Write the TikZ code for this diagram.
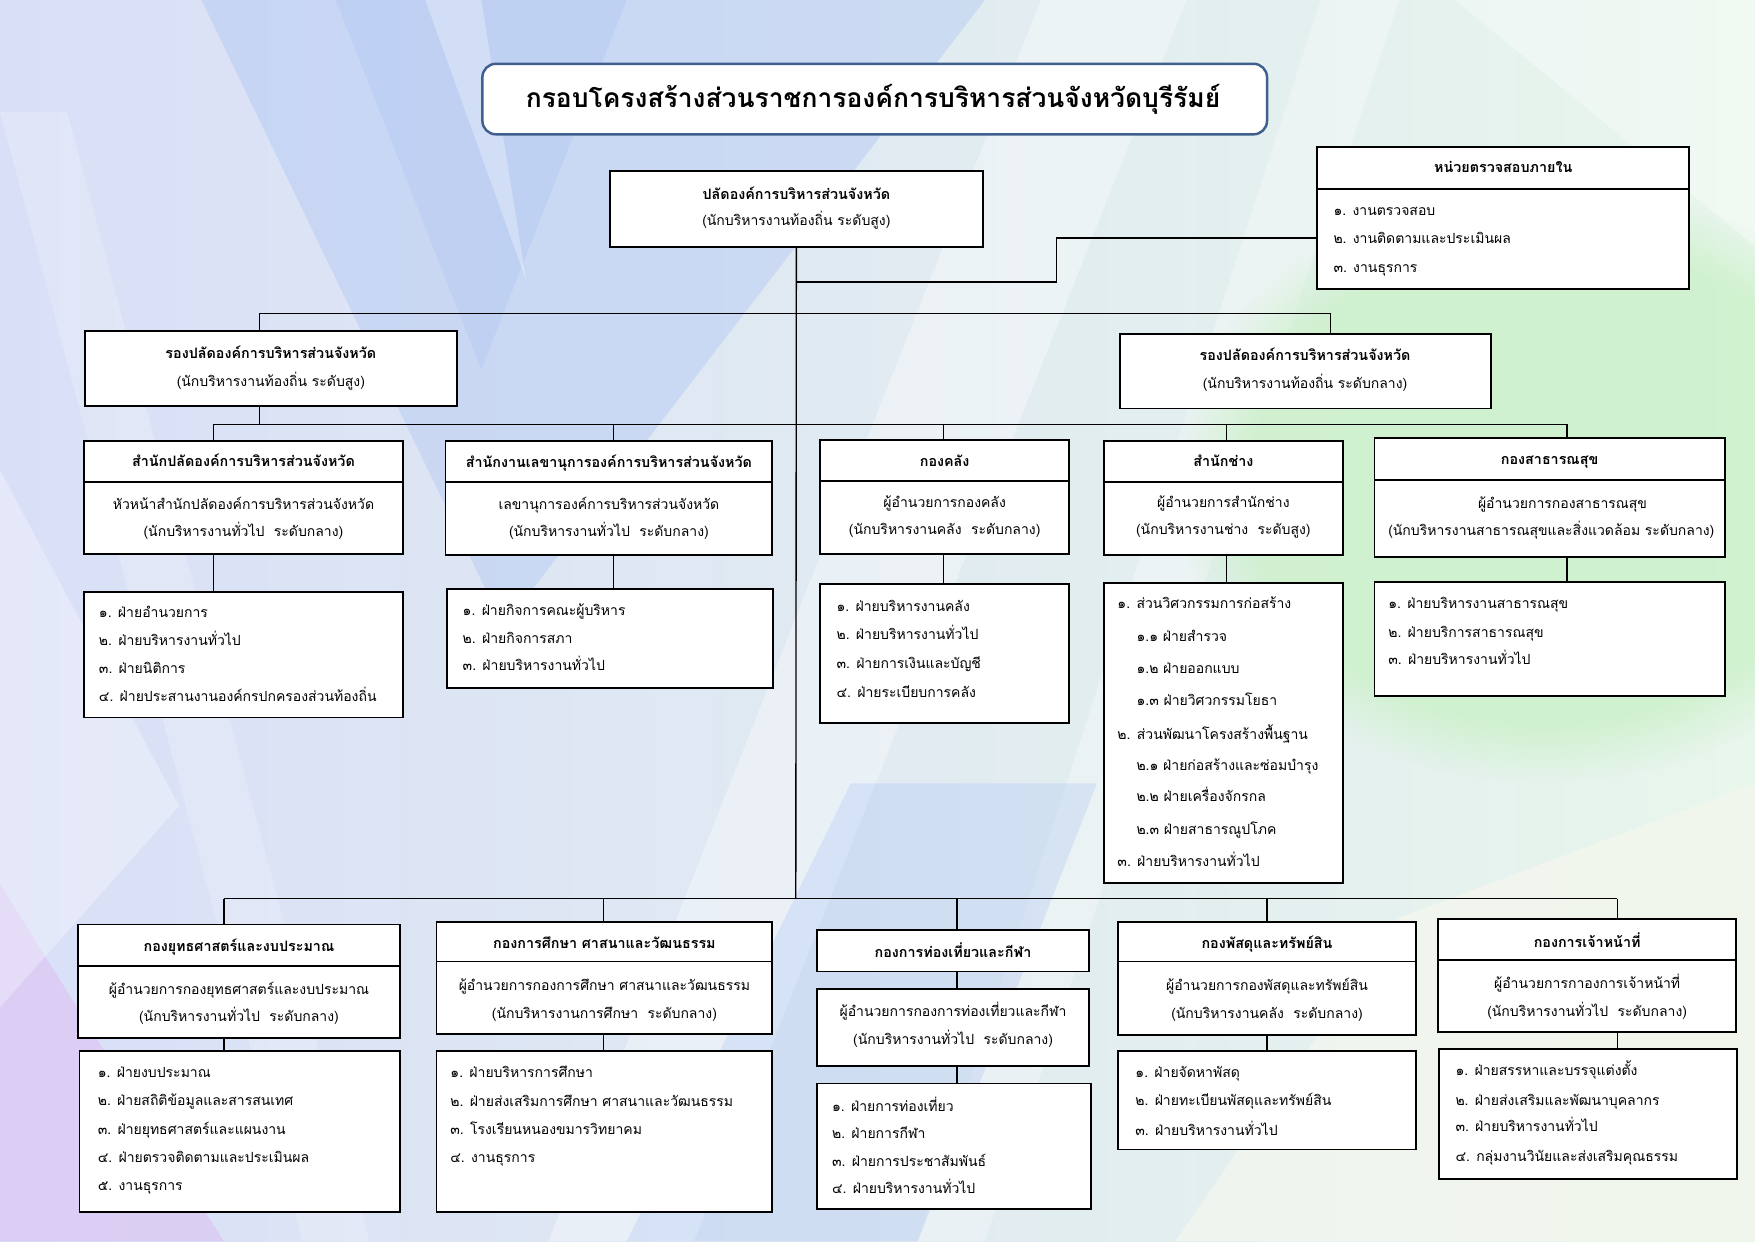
\documentclass[tikz,border=0pt]{standalone}
\usepackage{fontspec}
\setmainfont[Script=Thai]{Loma}
\usetikzlibrary{calc,fadings}
\definecolor{bgA}{HTML}{D9DFF7}
\definecolor{bgB}{HTML}{DCE7F6}
\definecolor{bgC}{HTML}{E8F6EC}
\definecolor{blueV}{HTML}{A9C2F3}
\definecolor{greenB}{HTML}{CBF1C8}
\definecolor{purp}{HTML}{DCC6F3}
\definecolor{cream}{HTML}{F6F7EE}
\definecolor{titleblue}{HTML}{3F5F8F}
\newcommand{\rbox}[6][]{\node[bx,#1,minimum width={(#5-#3)*0.5pt},minimum height={(#6-#4)*0.5pt}] (#2) at ({(#3+#5)/2},{(#4+#6)/2}) {};}
\tikzset{
 bx/.style={draw=black, line width=0.85pt, fill=white, inner sep=0pt, outer sep=0pt},
 tx/.style={font=\fontsize{6.25}{8}\selectfont, inner sep=0pt, anchor=base, yshift=-1.65pt},
 hd/.style={font=\fontsize{6.4}{8}\selectfont\bfseries, inner sep=0pt, anchor=base, yshift=-1.7pt},
 it/.style={font=\fontsize{6.25}{8}\selectfont, inner sep=0pt, anchor=base west, yshift=-1.65pt},
 ttl/.style={font=\fontsize{11.8}{14}\selectfont\bfseries, inner sep=0pt, anchor=base, yshift=-3.1pt},
 ln/.style={line width=0.6pt, black},
}
\begin{document}
\begin{tikzpicture}[x=0.5pt,y=-0.5pt]
\useasboundingbox (0,0) rectangle (1568,1109);
% background
\shade[left color=bgA, middle color=bgB, right color=bgC] (0,0) rectangle (1568,1109);
\fill[blueV, opacity=.38] (180,0) -- (880,0) -- (450,560) -- cycle;
\fill[blueV, opacity=.3] (300,0) -- (560,0) -- (430,330) -- cycle;
\fill[white, opacity=.3] (380,0) -- (430,0) -- (470,250) -- cycle;
\fill[white, opacity=.35] (930,0) -- (1060,0) -- (620,1109) -- (490,1109) -- cycle;
\fill[white, opacity=.3] (1180,0) -- (1250,0) -- (880,1109) -- (820,1109) -- cycle;
\fill[white, opacity=.2] (0,100) -- (60,100) -- (330,1109) -- (270,1109) -- cycle;
\fill[greenB, opacity=.8, path fading=circle with fuzzy edge 20 percent] (1380,430) ellipse [x radius=330, y radius=270];
\fill[purp, opacity=.7] (0,790) -- (200,1109) -- (0,1109) -- cycle;
\fill[cream, opacity=.7] (1250,820) -- (1568,700) -- (1568,1109) -- (1050,1109) -- cycle;
\fill[white, opacity=.35] (1300,0) -- (1568,0) -- (1568,220) -- cycle;
\fill[blueV, opacity=.3] (560,1109) -- (760,700) -- (980,700) -- (820,1109) -- cycle;
\fill[white, opacity=.3] (0,420) -- (160,720) -- (0,900) -- cycle;

% connectors
\coordinate (br) at (711,252);
\coordinate (b1) at (711,280);
\coordinate (kDL) at (232,280);
\coordinate (kDR) at (1189,280);
\coordinate (b2) at (711,379);
\coordinate (b3) at (711,803);
\coordinate (k2a) at (191,379);
\coordinate (k2b) at (548,379);
\coordinate (k2c) at (843,379);
\coordinate (k2d) at (1096,379);
\coordinate (k2e) at (1400,379);
\coordinate (k3f) at (200,803);
\coordinate (k3g) at (539,803);
\coordinate (k3h) at (855,803);
\coordinate (k3i) at (1132,803);
\coordinate (k3j) at (1445,803);

% boxes
\rbox[rounded corners=6pt, draw=titleblue, line width=1.1pt]{title}{431}{57}{1132}{120}
\rbox{T}{545}{153}{878}{221}
\rbox{Ah}{1177}{131}{1509}{169}
\rbox{Al}{1177}{169}{1509}{258}
\rbox{DL}{76}{296}{408}{363}
\rbox{DR}{1001}{298}{1332}{365}
% row 2
\rbox{hA2}{75}{394}{360}{431}
\rbox{mA2}{75}{431}{360}{495}
\rbox{lA2}{75}{529}{360}{641}
\rbox{hB2}{398}{394}{690}{431}
\rbox{mB2}{398}{431}{690}{496}
\rbox{lB2}{399}{526}{691}{615}
\rbox{hC2}{733}{393}{955}{430}
\rbox{mC2}{733}{430}{955}{495}
\rbox{lC2}{733}{522}{955}{646}
\rbox{hD2}{986}{394}{1200}{431}
\rbox{mD2}{986}{431}{1200}{496}
\rbox{lD2}{986}{521}{1200}{789}
\rbox{hE2}{1228}{391}{1541}{429}
\rbox{mE2}{1228}{429}{1541}{498}
\rbox{lE2}{1228}{520}{1541}{622}
% row 3
\rbox{hF}{70}{826}{357}{863}
\rbox{mF}{70}{863}{357}{927}
\rbox{lF}{71}{939}{357}{1083}
\rbox{hG}{390}{824}{690}{859}
\rbox{mG}{390}{859}{690}{924}
\rbox{lG}{390}{939}{690}{1083}
\rbox{hH}{730}{831}{973}{868}
\rbox{mH}{730}{884}{973}{952}
\rbox{lH}{730}{968}{975}{1080}
\rbox{hI}{999}{824}{1265}{859}
\rbox{mI}{999}{859}{1265}{925}
\rbox{lI}{999}{939}{1265}{1027}
\rbox{hJ}{1285}{821}{1551}{858}
\rbox{mJ}{1285}{858}{1551}{922}
\rbox{lJ}{1286}{937}{1552}{1053}

\draw[ln] (T.south) -- (b3);
\draw[ln] (br) -| ($(br)!.5!(Al.west)$) |- ($(Al.west)+(0,-1)$);
\draw[ln] (kDL |- DL.north) -- (kDL) -- (kDR) -- (kDR |- DR.north);
\draw[ln] (kDL |- DL.south) -- (kDL |- b2);
\draw[ln] (k2a) -- (k2e);
\draw[ln] (k3f) -- (k3j);
\foreach \k/\b in {k2a/A2,k2b/B2,k2c/C2,k2d/D2,k2e/E2,k3f/F,k3g/G,k3i/I,k3j/J}{
  \draw[ln] (\k) -- (\k |- h\b.north);
  \draw[ln] (m\b.south -| \k) -- (l\b.north -| \k);
}
\draw[ln] (k3h) -- (k3h |- hH.north);
\draw[ln] (hH.south -| k3h) -- (mH.north -| k3h);
\draw[ln] (mH.south -| k3h) -- (lH.north -| k3h);

% texts
\node[ttl] (tTitle) at (780,90) {กรอบโครงสร้างส่วนราชการองค์การบริหารส่วนจังหวัดบุรีรัมย์};
\node[hd] (tT1) at (711.5,175) {ปลัดองค์การบริหารส่วนจังหวัด};
\node[tx] (tT2) at (711.5,198) {(นักบริหารงานท้องถิ่น ระดับสูง)};
\node[hd] (tA0) at (1343,151) {หน่วยตรวจสอบภายใน};
\node[it] (tA1) at (1191,189) {๑. งานตรวจสอบ};
\node[it] (tA2) at (1191,214) {๒. งานติดตามและประเมินผล};
\node[it] (tA3) at (1191,240) {๓. งานธุรการ};
\node[hd] (tDL1) at (242,317) {รองปลัดองค์การบริหารส่วนจังหวัด};
\node[tx] (tDL2) at (242,342) {(นักบริหารงานท้องถิ่น ระดับสูง)};
\node[hd] (tDR1) at (1166,319) {รองปลัดองค์การบริหารส่วนจังหวัด};
\node[tx] (tDR2) at (1166,344) {(นักบริหารงานท้องถิ่น ระดับกลาง)};
% A2
\node[hd] (tA2h) at (217.5,413) {สำนักปลัดองค์การบริหารส่วนจังหวัด};
\node[tx] (tA2m1) at (217.5,452) {หัวหน้าสำนักปลัดองค์การบริหารส่วนจังหวัด};
\node[tx] (tA2m2) at (217.5,476) {(นักบริหารงานทั่วไป~ ระดับกลาง)};
\node[it] (tA2i1) at (88,548) {๑. ฝ่ายอำนวยการ};
\node[it] (tA2i2) at (88,573) {๒. ฝ่ายบริหารงานทั่วไป};
\node[it] (tA2i3) at (88,598) {๓. ฝ่ายนิติการ};
\node[it] (tA2i4) at (88,623) {๔. ฝ่ายประสานงานองค์กรปกครองส่วนท้องถิ่น};
% B2
\node[hd] (tB2h) at (544,414) {สำนักงานเลขานุการองค์การบริหารส่วนจังหวัด};
\node[tx] (tB2m1) at (544,452) {เลขานุการองค์การบริหารส่วนจังหวัด};
\node[tx] (tB2m2) at (544,476) {(นักบริหารงานทั่วไป~ ระดับกลาง)};
\node[it] (tB2i1) at (413,547) {๑. ฝ่ายกิจการคณะผู้บริหาร};
\node[it] (tB2i2) at (413,572) {๒. ฝ่ายกิจการสภา};
\node[it] (tB2i3) at (413,596) {๓. ฝ่ายบริหารงานทั่วไป};
% C2
\node[hd] (tC2h) at (844,413) {กองคลัง};
\node[tx] (tC2m1) at (844,450) {ผู้อำนวยการกองคลัง};
\node[tx] (tC2m2) at (844,474) {(นักบริหารงานคลัง~ ระดับกลาง)};
\node[it] (tC2i1) at (747,543) {๑. ฝ่ายบริหารงานคลัง};
\node[it] (tC2i2) at (747,568) {๒. ฝ่ายบริหารงานทั่วไป};
\node[it] (tC2i3) at (747,594) {๓. ฝ่ายการเงินและบัญชี};
\node[it] (tC2i4) at (747,620) {๔. ฝ่ายระเบียบการคลัง};
% D2
\node[hd] (tD2h) at (1093,413) {สำนักช่าง};
\node[tx] (tD2m1) at (1093,450) {ผู้อำนวยการสำนักช่าง};
\node[tx] (tD2m2) at (1093,474) {(นักบริหารงานช่าง~ ระดับสูง)};
\node[it] (tD2i1) at (998,540) {๑. ส่วนวิศวกรรมการก่อสร้าง};
\node[it] (tD2i2) at (1015,570) {๑.๑ ฝ่ายสำรวจ};
\node[it] (tD2i3) at (1015,598) {๑.๒ ฝ่ายออกแบบ};
\node[it] (tD2i4) at (1015,627) {๑.๓ ฝ่ายวิศวกรรมโยธา};
\node[it] (tD2i5) at (998,657) {๒. ส่วนพัฒนาโครงสร้างพื้นฐาน};
\node[it] (tD2i6) at (1015,685) {๒.๑ ฝ่ายก่อสร้างและซ่อมบำรุง};
\node[it] (tD2i7) at (1015,713) {๒.๒ ฝ่ายเครื่องจักรกล};
\node[it] (tD2i8) at (1015,742) {๒.๓ ฝ่ายสาธารณูปโภค};
\node[it] (tD2i9) at (998,771) {๓. ฝ่ายบริหารงานทั่วไป};
% E2
\node[hd] (tE2h) at (1384.5,412) {กองสาธารณสุข};
\node[tx] (tE2m1) at (1396,451) {ผู้อำนวยการกองสาธารณสุข};
\node[tx] (tE2m2) at (1386,475) {(นักบริหารงานสาธารณสุขและสิ่งแวดล้อม ระดับกลาง)};
\node[it] (tE2i1) at (1240,540) {๑. ฝ่ายบริหารงานสาธารณสุข};
\node[it] (tE2i2) at (1240,566) {๒. ฝ่ายบริการสาธารณสุข};
\node[it] (tE2i3) at (1240,590) {๓. ฝ่ายบริหารงานทั่วไป};
% F
\node[hd] (tFh) at (213.5,847) {กองยุทธศาสตร์และงบประมาณ};
\node[tx] (tFm1) at (213.5,885) {ผู้อำนวยการกองยุทธศาสตร์และงบประมาณ};
\node[tx] (tFm2) at (213.5,909) {(นักบริหารงานทั่วไป~ ระดับกลาง)};
\node[it] (tFi1) at (87,959) {๑. ฝ่ายงบประมาณ};
\node[it] (tFi2) at (87,984) {๒. ฝ่ายสถิติข้อมูลและสารสนเทศ};
\node[it] (tFi3) at (87,1010) {๓. ฝ่ายยุทธศาสตร์และแผนงาน};
\node[it] (tFi4) at (87,1035) {๔. ฝ่ายตรวจติดตามและประเมินผล};
\node[it] (tFi5) at (87,1060) {๕. งานธุรการ};
% G
\node[hd] (tGh) at (540,844) {กองการศึกษา ศาสนาและวัฒนธรรม};
\node[tx] (tGm1) at (540,882) {ผู้อำนวยการกองการศึกษา ศาสนาและวัฒนธรรม};
\node[tx] (tGm2) at (540,907) {(นักบริหารงานการศึกษา~ ระดับกลาง)};
\node[it] (tGi1) at (402,959) {๑. ฝ่ายบริหารการศึกษา};
\node[it] (tGi2) at (402,985) {๒. ฝ่ายส่งเสริมการศึกษา ศาสนาและวัฒนธรรม};
\node[it] (tGi3) at (402,1010) {๓. โรงเรียนหนองขมารวิทยาคม};
\node[it] (tGi4) at (402,1035) {๔. งานธุรการ};
% H
\node[hd] (tHh) at (851.5,852) {กองการท่องเที่ยวและกีฬา};
\node[tx] (tHm1) at (851.5,905) {ผู้อำนวยการกองการท่องเที่ยวและกีฬา};
\node[tx] (tHm2) at (851.5,930) {(นักบริหารงานทั่วไป~ ระดับกลาง)};
\node[it] (tHi1) at (743,990) {๑. ฝ่ายการท่องเที่ยว};
\node[it] (tHi2) at (743,1014) {๒. ฝ่ายการกีฬา};
\node[it] (tHi3) at (743,1039) {๓. ฝ่ายการประชาสัมพันธ์};
\node[it] (tHi4) at (743,1063) {๔. ฝ่ายบริหารงานทั่วไป};
% I
\node[hd] (tIh) at (1132,844) {กองพัสดุและทรัพย์สิน};
\node[tx] (tIm1) at (1132,882) {ผู้อำนวยการกองพัสดุและทรัพย์สิน};
\node[tx] (tIm2) at (1132,907) {(นักบริหารงานคลัง~ ระดับกลาง)};
\node[it] (tIi1) at (1014,959) {๑. ฝ่ายจัดหาพัสดุ};
\node[it] (tIi2) at (1014,984) {๒. ฝ่ายทะเบียนพัสดุและทรัพย์สิน};
\node[it] (tIi3) at (1014,1011) {๓. ฝ่ายบริหารงานทั่วไป};
% J
\node[hd] (tJh) at (1418,843) {กองการเจ้าหน้าที่};
\node[tx] (tJm1) at (1418,880) {ผู้อำนวยการกาองการเจ้าหน้าที่};
\node[tx] (tJm2) at (1418,905) {(นักบริหารงานทั่วไป~ ระดับกลาง)};
\node[it] (tJi1) at (1300,958) {๑. ฝ่ายสรรหาและบรรจุแต่งตั้ง};
\node[it] (tJi2) at (1300,984) {๒. ฝ่ายส่งเสริมและพัฒนาบุคลากร};
\node[it] (tJi3) at (1300,1008) {๓. ฝ่ายบริหารงานทั่วไป};
\node[it] (tJi4) at (1300,1034) {๔. กลุ่มงานวินัยและส่งเสริมคุณธรรม};
\end{tikzpicture}
\end{document}
